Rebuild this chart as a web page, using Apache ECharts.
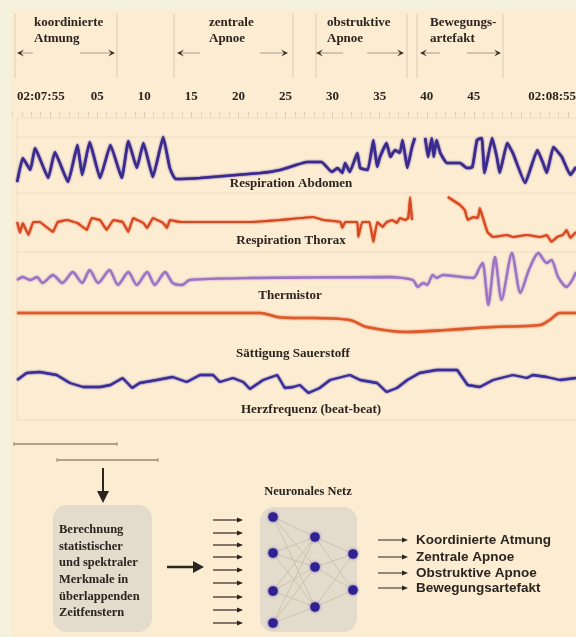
<!DOCTYPE html>
<html><head><meta charset="utf-8">
<script src="https://cdn.jsdelivr.net/npm/echarts@6/dist/echarts.min.js"></script>
<style>html,body{margin:0;padding:0;background:#f4f1dc}#c{width:576px;height:637px}</style>
</head><body><div id="c"></div>
<script>
// ---- data (time in seconds from 02:07:55, values in relative units) ----
const tickLabels = ['02:07:55','','05','10','15','20','25','30','35','40','45','','02:08:55'];
const phaseLabels = [['koordinierte','Atmung'],['zentrale','Apnoe'],['obstruktive','Apnoe'],['Bewegungs-','artefakt']];
const traceNames = ['Respiration Abdomen','Respiration Thorax','Thermistor','Sättigung Sauerstoff','Herzfrequenz (beat-beat)'];
const featureText = ['Berechnung','statistischer','und spektraler','Merkmale in','überlappenden','Zeitfenstern'];
const netTitle = 'Neuronales Netz';
const outputClasses = ['Koordinierte Atmung','Zentrale Apnoe','Obstruktive Apnoe','Bewegungsartefakt'];

const abdomen = [[1.5,8],[2.1,32],[2.9,20],[3.4,42],[4.8,12],[5.5,38],[6.9,8],[7.9,45],[8.4,15],[9.2,48],[10.3,12],[11.4,45],[12.6,12],[13.3,49],[14.2,22],[14.9,47],[15.9,13],[17.0,53],[17.7,22],[18.3,11],[20.9,12],[27.3,17],[29.4,20],[32.3,28],[33.8,28],[34.9,18],[35.5,22],[36.0,17],[36.3,27],[36.8,18],[37.6,37],[37.9,22],[38.7,20],[39.3,50],[39.7,23],[40.0,33],[40.7,47],[41.1,33],[41.6,40],[42.1,37],[42.4,50],[42.9,22],[43.4,43],[43.7,52],[44.2,null],[44.8,52],[45.1,33],[45.5,52],[45.7,33],[46.0,50],[46.4,37],[47.1,27],[48.5,27],[49.2,22],[49.8,23],[50.3,50],[50.8,52],[51.1,17],[51.9,52],[52.4,33],[52.7,17],[53.5,47],[54.1,37],[55.4,7],[56.7,40],[57.3,27],[57.7,17],[58.4,43],[59.3,33],[60.2,15],[60.8,23]];
const thorax = [[1.5,28],[1.8,17],[2.1,27],[2.7,15],[3.2,28],[3.9,28],[5.3,18],[5.8,28],[6.8,30],[7.9,27],[8.9,20],[9.4,32],[10.3,30],[11.0,20],[11.7,30],[12.7,28],[13.3,18],[13.8,32],[14.9,27],[15.3,22],[15.9,32],[17.0,27],[17.4,22],[17.7,30],[18.8,28],[26.2,28],[29.4,30],[32.9,33],[34.0,30],[35.8,28],[36.0,22],[36.3,28],[37.6,28],[37.7,13],[38.1,28],[38.9,28],[39.3,8],[39.7,28],[40.3,23],[40.7,28],[41.3,30],[41.8,27],[42.1,32],[42.7,30],[43.0,32],[43.2,53],[43.4,30],[45.0,null],[47.2,53],[48.5,45],[49.0,40],[49.3,30],[49.9,33],[50.4,32],[50.6,42],[50.9,33],[51.4,18],[52.0,13],[53.5,15],[54.1,13],[55.6,15],[57.0,13],[57.7,15],[58.2,8],[58.8,13],[59.4,15],[59.8,20],[60.2,12],[60.8,18]];
const thermistor = [[1.5,30],[2.1,33],[2.9,30],[3.6,33],[4.2,27],[5.3,35],[6.3,27],[7.4,38],[8.4,27],[9.2,40],[10.1,27],[11.3,40],[12.2,25],[13.3,38],[14.2,25],[15.3,38],[16.1,25],[17.2,38],[18.0,27],[19.0,25],[19.8,30],[26.2,32],[41.1,33],[43.5,30],[44.0,23],[44.6,27],[45.0,25],[45.6,35],[46.0,32],[46.7,35],[49.9,32],[50.6,43],[50.9,47],[51.5,5],[52.2,53],[52.9,10],[54.0,57],[54.9,17],[55.8,40],[56.8,57],[57.7,47],[58.2,50],[58.9,33],[59.8,23],[60.4,30],[60.8,38]];
const saturation = [[1.5,32],[20.9,32],[27.3,32],[29.1,28],[31.5,27],[32.9,27],[36.8,25],[38.6,18],[42.9,13],[47.1,15],[52.0,18],[57.0,20],[58.0,25],[59.1,32],[60.8,32]];
const heartRate = [[1.5,25],[2.5,32],[3.9,33],[5.7,30],[7.1,22],[8.5,18],[10.3,18],[11.4,20],[12.7,27],[13.7,17],[14.5,22],[16.3,25],[18.0,28],[19.5,23],[20.9,30],[22.3,30],[23.0,23],[24.4,27],[25.5,23],[26.2,16],[27.6,25],[29.1,30],[29.9,17],[30.8,18],[31.5,20],[32.4,12],[33.6,17],[34.7,25],[36.8,30],[37.9,25],[39.7,22],[40.7,13],[41.8,17],[42.9,25],[44.2,32],[46.0,35],[48.2,35],[49.3,20],[50.6,18],[52.0,25],[54.1,30],[55.6,27],[56.2,30],[57.7,28],[59.1,25],[60.8,27]];

// ---- layout / styles ----
const SERIF = '"Liberation Serif", "DejaVu Serif", serif';
const SANS = '"Liberation Sans", Arial, sans-serif';
const INK = '#2a2520';
const traceGrids = [
  {top:130,height:60,data:abdomen,color:'#3b2a8e',w:2.6,smooth:0.12},
  {top:190,height:60,data:thorax,color:'#d9471e',w:2.1,smooth:0.05},
  {top:250,height:60,data:thermistor,color:'#9c74c6',w:2.3,smooth:0.25},
  {top:300,height:45,data:saturation,color:'#df5a2a',w:2.6,smooth:0.3},
  {top:355,height:50,data:heartRate,color:'#3a2e98',w:2.3,smooth:0}
];
const traceLabelPos = [[291,184],[291,241],[290,296],[293,354],[311,410]];

const grids=[{left:3,right:8,top:104,height:8}];
const xAxes=[{gridIndex:0,type:'value',min:0,max:60,interval:5,position:'top',
  axisLine:{show:false},splitLine:{show:false},
  axisTick:{show:true,inside:true,length:6,lineStyle:{color:'#d8ccb4',width:1}},
  minorTick:{show:true,splitNumber:5,length:5,lineStyle:{color:'#e0d3ba',width:1}},
  axisLabel:{margin:1,color:INK,fontFamily:SERIF,fontWeight:'bold',fontSize:13,
    showMinLabel:true,showMaxLabel:true,
    formatter:v=>{const i=Math.round(v/5);return (i===0||i===12)?'':(tickLabels[i]||'');}}}];
const yAxes=[{gridIndex:0,show:false,min:0,max:1}];
const series=[];
traceGrids.forEach((g,i)=>{
  grids.push({left:3,right:0,top:g.top,height:g.height});
  xAxes.push({gridIndex:i+1,type:'value',min:0,max:60.8,show:false});
  yAxes.push({gridIndex:i+1,type:'value',min:0,max:g.height,show:false});
  series.push({type:'line',xAxisIndex:i+1,yAxisIndex:i+1,data:g.data,showSymbol:false,
    connectNulls:false,clip:false,smooth:g.smooth,silent:true,animation:false,
    lineStyle:{color:g.color,width:g.w,shadowColor:g.color,shadowBlur:2}});
});

// ---- diagram graphics ----
const el=[];
// frame strips
el.push({type:'rect',shape:{x:0,y:0,width:576,height:10},style:{fill:'#f4f1dc'},z:100});
el.push({type:'rect',shape:{x:0,y:0,width:11,height:637},style:{fill:'#f4f1dc'},z:100});
// panel faint lines
[118,137,193,252,420].forEach(y=>el.push({type:'line',shape:{x1:17,y1:y,x2:576,y2:y},style:{stroke:'#ecdfc6',lineWidth:1},z:-4}));
el.push({type:'line',shape:{x1:17,y1:118,x2:17,y2:420},style:{stroke:'#ecdfc6',lineWidth:1},z:-4});
// header phase annotations
const phases=[{tx:34,a:17,b:115,g1:33,g2:80,v:[15,117]},{tx:209,a:177,b:288,g1:200,g2:260,v:[174,293]},
  {tx:327,a:316,b:404,g1:343,g2:367,v:[316,407]},{tx:430,a:420,b:501,g1:440,g2:467,v:[417,503]}];
function txt(t,x,y,font,align,fill,vAlign){return {type:'text',x:x,y:y,z:5,style:{text:t,font:font,fill:fill||INK,textAlign:align||'left',align:align||'left',textVerticalAlign:vAlign||'middle',verticalAlign:vAlign||'middle'}};}
phases.forEach((p,i)=>{
  p.v.forEach(x=>el.push({type:'line',shape:{x1:x,y1:14,x2:x,y2:78},style:{stroke:'#d8ccb7',lineWidth:1}}));
  el.push(txt(phaseLabels[i][0],p.tx,23,'bold 13px '+SERIF));
  el.push(txt(phaseLabels[i][1],p.tx,39,'bold 13px '+SERIF));
  el.push({type:'line',shape:{x1:p.a+3,y1:53,x2:p.g1,y2:53},style:{stroke:'#a89e8c',lineWidth:1}});
  el.push({type:'line',shape:{x1:p.g2,y1:53,x2:p.b-3,y2:53},style:{stroke:'#a89e8c',lineWidth:1}});
  el.push({type:'polygon',shape:{points:[[p.a,53],[p.a+7,49.5],[p.a+4,53],[p.a+7,56.5]]},style:{fill:'#3a332c'}});
  el.push({type:'polygon',shape:{points:[[p.b,53],[p.b-7,49.5],[p.b-4,53],[p.b-7,56.5]]},style:{fill:'#3a332c'}});
});
// time axis end labels
el.push(txt(tickLabels[0],17,97,'bold 13px '+SERIF,'left'));
el.push(txt(tickLabels[12],576,97,'bold 13px '+SERIF,'right'));
// trace names
traceNames.forEach((n,i)=>el.push(txt(n,traceLabelPos[i][0],traceLabelPos[i][1],'bold 13px '+SERIF,'center')));
// windows
function hbar(x1,x2,y){el.push({type:'line',shape:{x1:x1,y1:y,x2:x2,y2:y},style:{stroke:'#978a77',lineWidth:1.6}});
  el.push({type:'line',shape:{x1:x1,y1:y-2,x2:x1,y2:y+2},style:{stroke:'#978a77',lineWidth:1}});
  el.push({type:'line',shape:{x1:x2,y1:y-2,x2:x2,y2:y+2},style:{stroke:'#978a77',lineWidth:1}});}
hbar(14,117,444); hbar(57,158,460);
el.push({type:'line',shape:{x1:103,y1:468,x2:103,y2:494},style:{stroke:INK,lineWidth:2}});
el.push({type:'polygon',shape:{points:[[97,491],[109,491],[103,503]]},style:{fill:INK}});
// feature box
el.push({type:'rect',shape:{x:53,y:505,width:99,height:127,r:14},style:{fill:'#e3dbcb'}});
featureText.forEach((t,i)=>el.push(txt(t,59,530+i*16.6,'bold 12.5px '+SERIF)));
el.push({type:'line',shape:{x1:167,y1:567,x2:196,y2:567},style:{stroke:INK,lineWidth:2.5}});
el.push({type:'polygon',shape:{points:[[193,561],[193,573],[204,567]]},style:{fill:INK}});
// input arrows
[520,533,545,557,570,583,597,610,623].forEach(y=>{
  el.push({type:'line',shape:{x1:213,y1:y,x2:238,y2:y},style:{stroke:INK,lineWidth:1.2}});
  el.push({type:'polygon',shape:{points:[[237,y-2.5],[237,y+2.5],[243,y]]},style:{fill:INK}});});
// neural net
el.push(txt(netTitle,308,492,'bold 12.5px '+SERIF,'center'));
el.push({type:'rect',shape:{x:260,y:507,width:97,height:125,r:14},style:{fill:'#e3dbcb'}});
const L1=[517,553,591,623].map(y=>[273,y]),L2=[537,567,607].map(y=>[315,y]),L3=[554,590].map(y=>[353,y]);
[[L1,L2],[L2,L3]].forEach(([A,B])=>A.forEach(a=>B.forEach(b=>el.push({type:'line',shape:{x1:a[0],y1:a[1],x2:b[0],y2:b[1]},style:{stroke:'#cfc3b0',lineWidth:1}}))));
[...L1,...L2,...L3].forEach(p=>el.push({type:'circle',z:6,shape:{cx:p[0],cy:p[1],r:4.8},style:{fill:'#2f2290',shadowColor:'#6a5cc0',shadowBlur:3}}));
// outputs
[540,557,573,588].forEach((y,i)=>{
  el.push({type:'line',shape:{x1:378,y1:y,x2:403,y2:y},style:{stroke:INK,lineWidth:1}});
  el.push({type:'polygon',shape:{points:[[402,y-2.5],[402,y+2.5],[408,y]]},style:{fill:INK}});
  el.push(txt(outputClasses[i],416,y,'bold 13.5px '+SANS));});

const chart=echarts.init(document.getElementById('c'),null,{renderer:'canvas'});
chart.setOption({backgroundColor:'#fcecd2',animation:false,grid:grids,xAxis:xAxes,yAxis:yAxes,series:series,graphic:{elements:el}});
</script></body></html>
